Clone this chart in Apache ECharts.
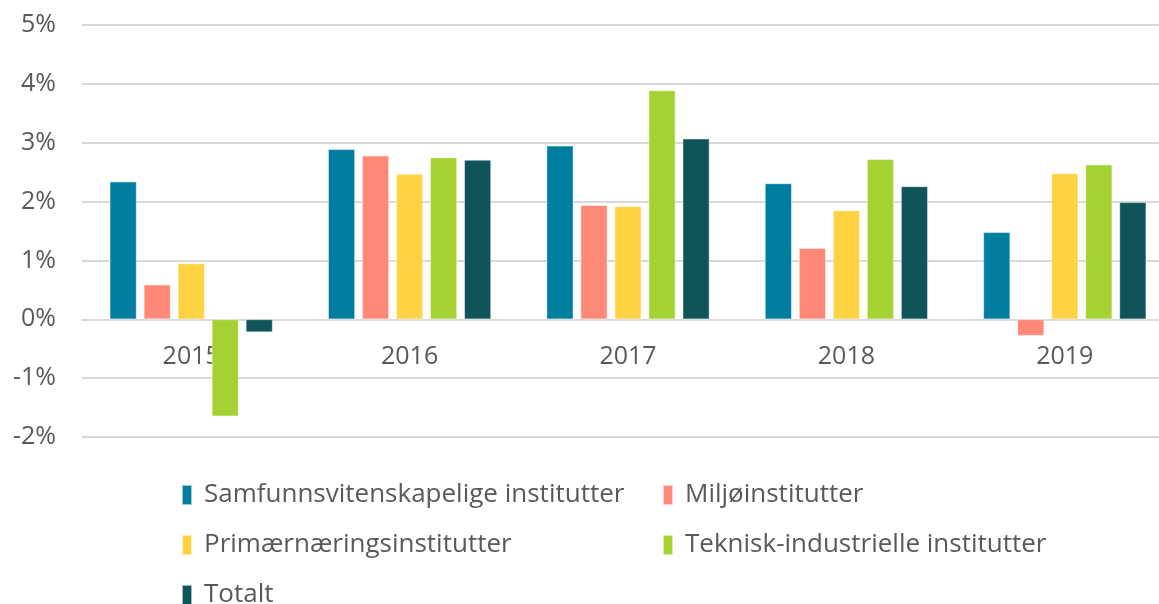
<!DOCTYPE html>
<html>
<head>
<meta charset="utf-8">
<script src="https://cdn.jsdelivr.net/npm/echarts@6/dist/echarts.min.js"></script>
<style>
	html, body { margin: 0; padding: 0; background: #fff; }
	#chart { width: 1159px; height: 604px; }
</style>
</head>
<body>
<div id="chart"></div>
<script>
// årstall
var years = ['2015', '2016', '2017', '2018', '2019'];
var yTicks = [-2, -1, 0, 1, 2, 3, 4, 5];
// vekst per instituttgruppe (%)
var samfunn = [2.34, 2.89, 2.95, 2.31, 1.48];
var miljo = [0.59, 2.78, 1.94, 1.21, -0.28];
var primaer = [0.95, 2.47, 1.92, 1.85, 2.48];
var teknisk = [-1.65, 2.75, 3.89, 2.72, 2.63];
var totalt = [-0.22, 2.71, 3.07, 2.26, 1.99];

var names = ['Samfunnsvitenskapelige institutter', 'Miljøinstitutter', 'Primærnæringsinstitutter', 'Teknisk-industrielle institutter', 'Totalt'];
var colors = ['#007EA0', '#FF8877', '#FFD244', '#A5D233', '#0F5459'];
var values = [samfunn, miljo, primaer, teknisk, totalt];

var font = 'Open Sans';
var textColor = '#595959';
var fs = 25;

var myChart = echarts.init(document.getElementById('chart'));

var series = names.map(function (n, i) {
	return {
		name: n,
		type: 'bar',
		barWidth: 27,
		barGap: '26%',
		itemStyle: {
			color: colors[i],
			borderColor: 'rgba(255,255,255,0.6)',
			borderWidth: 0.8
		},
		data: values[i]
	};
});

// en legend per oppføring, to kolonner
var legendPos = [[176, 477], [657, 477], [176, 527], [657, 527], [176, 577]];
var legends = names.map(function (n, i) {
	return {
		left: legendPos[i][0],
		top: legendPos[i][1],
		icon: 'rect',
		itemWidth: 10,
		itemHeight: 20,
		textStyle: {
			color: textColor,
			fontSize: 26,
			fontFamily: font,
			padding: [0, 0, 0, 7]
		},
		data: [n]
	};
});

var option = {
	animation: false,
	color: colors,
	grid: {
		left: 82,
		right: -15, // plottområdet er beskåret til høyre i originalen
		top: 25,
		bottom: 167,
		outerBoundsMode: 'none'
	},
	legend: legends,
	xAxis: {
		type: 'category',
		data: years,
		axisTick: { show: false },
		axisLine: {
			onZero: true,
			lineStyle: { color: '#d9d9d9', width: 2 }
		},
		axisLabel: {
			color: textColor,
			fontSize: fs,
			fontFamily: font,
			margin: -93
		}
	},
	yAxis: {
		type: 'value',
		min: yTicks[0],
		max: yTicks[yTicks.length - 1],
		interval: 1,
		axisLine: { show: false },
		axisTick: { show: false },
		splitLine: {
			lineStyle: { color: '#d9d9d9', width: 2 }
		},
		axisLabel: {
			color: textColor,
			fontSize: fs,
			fontFamily: font,
			margin: 26,
			formatter: '{value}%'
		}
	},
	series: series
};

myChart.setOption(option);
window.addEventListener('resize', function () {
	myChart.resize();
});
</script>
</body>
</html>
